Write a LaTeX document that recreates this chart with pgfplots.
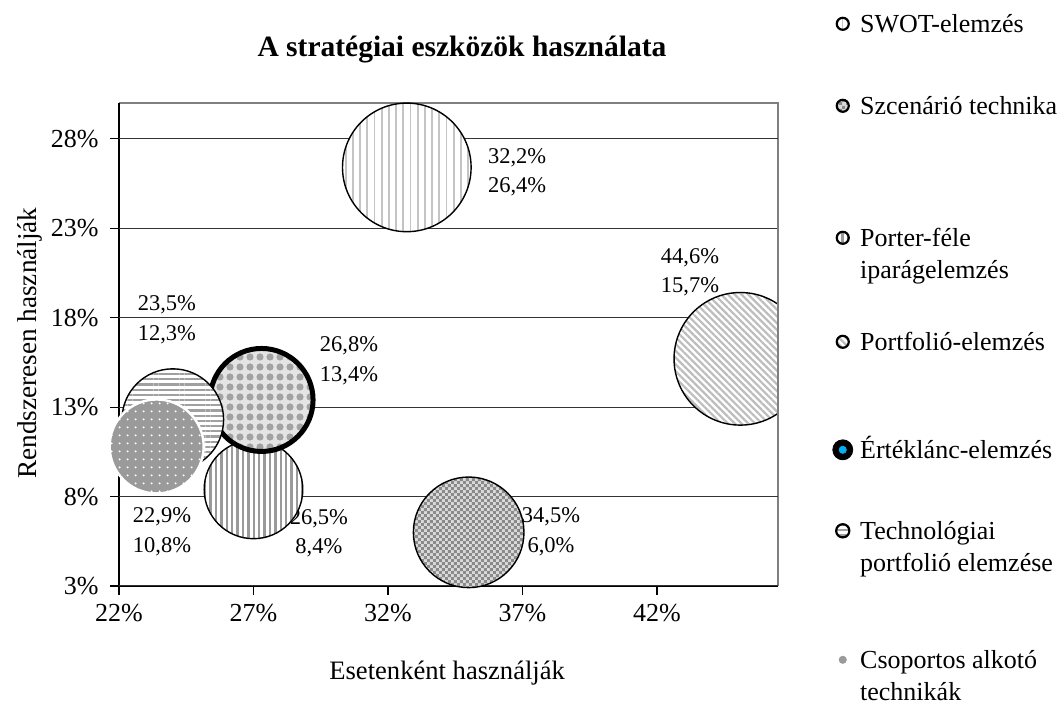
\documentclass[border=0pt]{standalone}
\usepackage{fontspec}
\setmainfont{Liberation Serif}
\usepackage{pgfplots}
\pgfplotsset{compat=1.18}
\usetikzlibrary{patterns,patterns.meta}

\pgfdeclarepatternformonly{mychecker}{\pgfpointorigin}{\pgfpoint{3.2pt}{3.2pt}}{\pgfpoint{3.2pt}{3.2pt}}{%
  \pgfpathrectangle{\pgfpointorigin}{\pgfpoint{1.6pt}{1.6pt}}%
  \pgfpathrectangle{\pgfpoint{1.6pt}{1.6pt}}{\pgfpoint{1.6pt}{1.6pt}}%
  \pgfusepath{fill}}

\definecolor{cswot}{HTML}{C4C4C4}
\definecolor{cporter}{HTML}{9A9A9A}
\definecolor{ctech}{HTML}{A0A0A0}
\definecolor{cport}{HTML}{BDBDBD}
\definecolor{cszcA}{HTML}{DADADA}
\definecolor{cszcB}{HTML}{8A8A8A}
\definecolor{cervA}{HTML}{E4E4E4}
\definecolor{cervB}{HTML}{A2A2A2}
\definecolor{ccsop}{HTML}{9A9A9A}
\definecolor{ccyan}{HTML}{00B0F0}

\tikzset{
  bubbase/.style={fill=white},
  bubpat/.style={fill=none},
  bubedge/.style={draw=black, line width=0.7pt},
}
\pgfdeclareplotmark{bub}{%
  \path[draw=none,bubbase] (0pt,0pt) circle (\the\pgfplotmarksize);
  \path[draw=none,bubpat] (0pt,0pt) circle (\the\pgfplotmarksize);
  \path[fill=none,bubedge] (0pt,0pt) circle (\the\pgfplotmarksize);
}
\pgfplotsset{
  legbub/.style={legend image code/.code={%
    \path[draw=none,bubbase] (3.3pt,#1) circle (3pt);
    \path[draw=none,bubpat] (3.3pt,#1) circle (3pt);
    \path[fill=none,bubedge,line width=1.1pt] (3.3pt,#1) circle (3pt);}},
  legbub/.default=4.3pt,
}
\newcommand{\lstr}[1]{\rule{0pt}{#1}}
\newcommand{\dstr}{\rule[-3pt]{0pt}{3pt}}

\begin{document}
\begin{tikzpicture}
\path[use as bounding box] (0,0) rectangle (531pt,353.5pt);
% plot-area border (under the bubbles)
\draw[color=black!50, line width=1pt] (59.5pt,302pt) -- (389pt,302pt) -- (389pt,60.5pt);
\draw[color=black, line width=0.75pt] (59.5pt,302pt) -- (59.5pt,60.5pt) -- (389pt,60.5pt);
\begin{axis}[
  at={(59.5pt,60.5pt)}, anchor=south west,
  scale only axis, width=329.5pt, height=241.5pt,
  xmin=21.5, xmax=46, ymin=3, ymax=30,
  axis line style={draw=none},
  xtick={21.5,26.5,31.5,36.5,41.5},
  xticklabels={22\%,27\%,32\%,37\%,42\%},
  ytick={3,8,13,18,23,28},
  yticklabels={3\%,8\%,13\%,18\%,23\%,28\%},
  xtick pos=left, ytick pos=left,
  tick align=outside, major tick length=4.5pt,
  tick style={black, line width=0.6pt},
  ymajorgrids, grid style={black!80, line width=0.5pt},
  ticklabel style={font=\fontsize{13}{15}\selectfont},
  xticklabel style={anchor=base, inner sep=0pt, yshift=-13.5pt},
  yticklabel style={anchor=east, inner sep=0pt, xshift=-5.5pt},
  xlabel={Esetenként használják},
  ylabel={Rendszeresen használják},
  xlabel style={at={(axis description cs:0.498,-0.18)}, anchor=center, font=\fontsize{13.3}{15}\selectfont},
  ylabel style={at={(axis description cs:-0.135,0.503)}, anchor=center, font=\fontsize{13.6}{15}\selectfont},
  title={A stratégiai eszközök használata},
  title style={at={(axis description cs:0.5205,1.085)}, anchor=center, font=\bfseries\fontsize{14.75}{17}\selectfont},
  legend style={at={(axis description cs:1.0819,1.1884)}, anchor=north west,
    draw=none, fill=none, inner sep=0pt, row sep=0pt, column sep=3.5pt,
    font=\fontsize{13}{16}\selectfont,
    nodes={inner sep=0pt, align=left},
    cells={anchor=base west}},
]
% SWOT-elemzés
\addplot[only marks, mark=bub, mark size=32.15pt,
  /tikz/bubbase/.style={fill=white},
  /tikz/bubpat/.style={pattern={Lines[angle=90,distance=3.6pt,line width=0.9pt]}, pattern color=cswot},
  legbub] coordinates {(32.2,26.4)};
\addlegendentry{\lstr{10pt}SWOT-elemzés\dstr}
% Szcenário technika
\addplot[only marks, mark=bub, mark size=27.65pt,
  /tikz/bubbase/.style={fill=cszcA},
  /tikz/bubpat/.style={pattern=mychecker, pattern color=cszcB},
  legbub] coordinates {(34.5,6.0)};
\addlegendentry{\lstr{39.5pt}Szcenárió technika\dstr}
% Porter
\addplot[only marks, mark=bub, mark size=24.65pt,
  /tikz/bubbase/.style={fill=white},
  /tikz/bubpat/.style={pattern={Lines[angle=90,distance=2.7pt,line width=1.2pt]}, pattern color=cporter},
  legbub=20.3pt] coordinates {(26.5,8.4)};
\addlegendentry{\lstr{64.5pt}Porter-féle\\iparágelemzés\dstr}
% Portfolió
\addplot[only marks, mark=bub, mark size=33.15pt,
  /tikz/bubbase/.style={fill=white},
  /tikz/bubpat/.style={pattern={Lines[angle=-45,distance=2.4pt,line width=1.1pt]}, pattern color=cport},
  legbub] coordinates {(44.6,15.7)};
\addlegendentry{\lstr{34.5pt}Portfolió-elemzés\dstr}
% Értéklánc
\addplot[only marks, mark=bub, mark size=25.75pt,
  /tikz/bubbase/.style={fill=cervA},
  /tikz/bubpat/.style={pattern={Dots[distance=5pt,radius=1.8pt]}, pattern color=cervB},
  /tikz/bubedge/.style={draw=black, line width=2.5pt},
  legend image code/.code={%
    \fill[black] (3.3pt,4.3pt) circle (5pt);
    \fill[ccyan] (3.3pt,4.3pt) circle (1.8pt);}] coordinates {(26.8,13.4)};
\addlegendentry{\lstr{52.5pt}Értéklánc-elemzés\dstr}
% Technológiai
\addplot[only marks, mark=bub, mark size=25.4pt,
  /tikz/bubbase/.style={fill=white},
  /tikz/bubpat/.style={pattern={Lines[angle=0,distance=2.6pt,line width=1.1pt]}, pattern color=ctech},
  legend image code/.code={%
    \path[draw=none,bubbase] (3.3pt,20.3pt) circle (3.3pt);
    \path[draw=none,bubpat] (3.3pt,20.3pt) circle (3.3pt);
    \path[fill=none,bubedge,line width=1.1pt] (3.3pt,20.3pt) circle (3.3pt);}] coordinates {(23.5,12.3)};
\addlegendentry{\lstr{39pt}Technológiai\\portfolió elemzése\dstr}
% Csoportos
\addplot[only marks, mark=bub, mark size=23.5pt,
  /tikz/bubbase/.style={fill=ccsop},
  /tikz/bubpat/.style={pattern={Dots[distance=4pt,radius=0.6pt]}, pattern color=white},
  /tikz/bubedge/.style={draw=white, line width=1.2pt},
  legend image code/.code={\fill[ccsop] (3.3pt,20.3pt) circle (1.8pt);}] coordinates {(22.9,10.8)};
\addlegendentry{\lstr{47pt}Csoportos alkotó\\technikák\dstr}

\begin{scope}[every node/.style={font=\fontsize{11.25}{14.75}\selectfont, align=center, inner sep=0pt}]
\node at (axis cs:36.30,26.14) {32,2\%\\26,4\%};
\node at (axis cs:42.73,20.55) {44,6\%\\15,7\%};
\node at (axis cs:23.28,17.87) {23,5\%\\12,3\%};
\node at (axis cs:30.05,15.58) {26,8\%\\13,4\%};
\node at (axis cs:23.10,6.02) {22,9\%\\10,8\%};
\node at (axis cs:28.93,5.96) {26,5\%\\8,4\%};
\node at (axis cs:37.56,6.02) {34,5\%\\6,0\%};
\end{scope}
\end{axis}
% the bubble that runs past the right edge of the plot area is cut there
\fill[white] (389pt,125pt) rectangle (413pt,260pt);
\draw[color=black!50, line width=1pt] (389pt,125pt) -- (389pt,260pt);
\end{tikzpicture}
\end{document}
